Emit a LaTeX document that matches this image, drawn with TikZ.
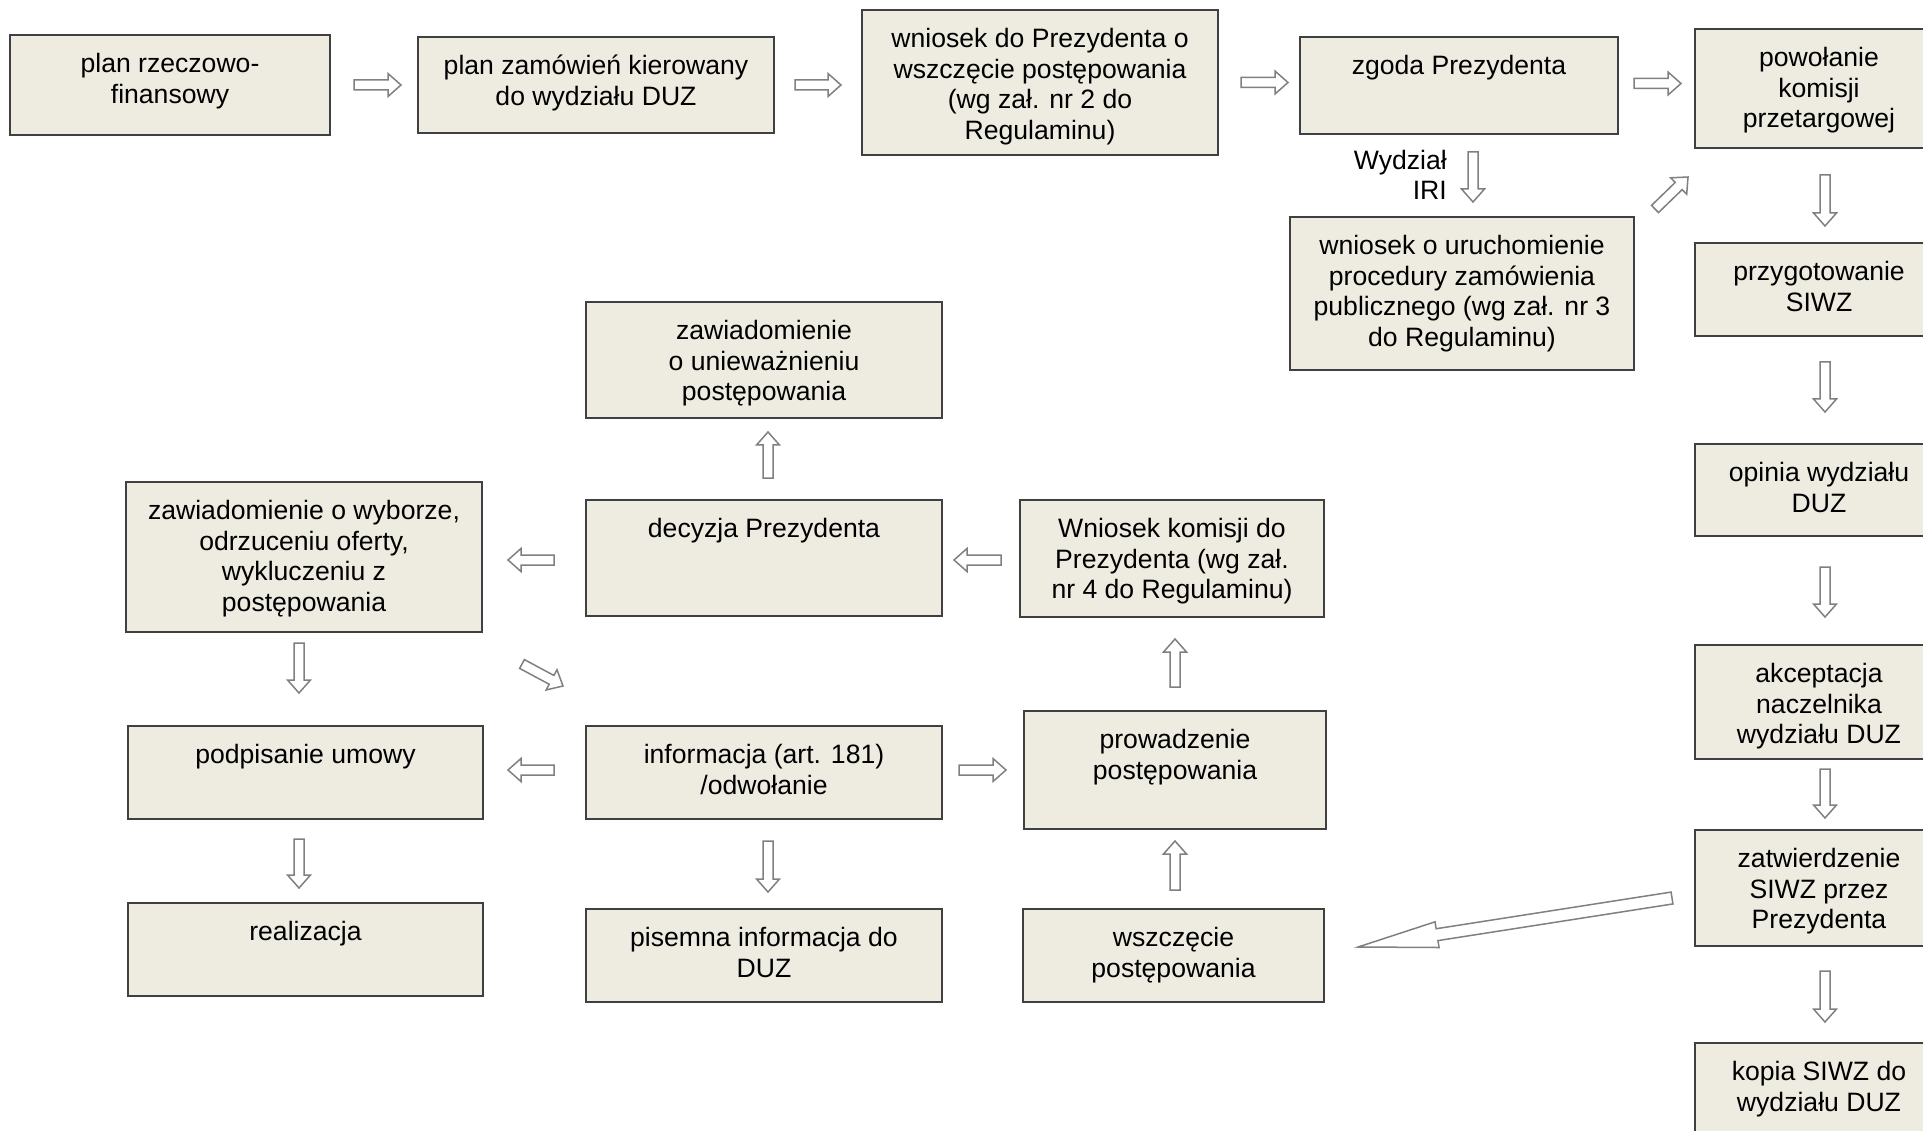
\documentclass[tikz,border=0pt]{standalone}
\usepackage{fontspec}
\setmainfont{Liberation Sans}
\usetikzlibrary{calc}

\definecolor{boxfill}{HTML}{EEECE1}
\definecolor{boxline}{HTML}{404040}
\definecolor{arrline}{HTML}{808080}

% box text: width, height, lines (top aligned)
\newcommand\boxtxt[3]{\parbox[t][#2pt][t]{#1pt}{\centering\vspace*{16pt}\strut#3\par}}

\begin{document}
\begin{tikzpicture}
[x=1pt,y=-1pt,
 every node/.style={font=\fontsize{26.6}{30.7}\selectfont},
 box/.style={draw=boxline,line width=2pt,fill=boxfill,inner sep=0pt,outer sep=0pt,anchor=north west},
 lbl/.style={inner sep=0pt,align=right,anchor=east},
 barw/.store in=\barw, barW/.store in=\barW, barh/.store in=\barh,
 barw=5pt, barW=11.5pt, barh=13pt,
 barrow/.style={draw=arrline,fill=white,line width=1.5pt,
   to path={($(\tikztostart)!\barw!90:(\tikztotarget)$)
     -- ($(\tikztotarget)!\barh!(\tikztostart)!\barw!-90:(\tikztostart)$)
     -- ($(\tikztotarget)!\barh!(\tikztostart)!\barW!-90:(\tikztostart)$)
     -- (\tikztotarget)
     -- ($(\tikztotarget)!\barh!(\tikztostart)!\barW!90:(\tikztostart)$)
     -- ($(\tikztotarget)!\barh!(\tikztostart)!\barw!90:(\tikztostart)$)
     -- ($(\tikztostart)!\barw!-90:(\tikztotarget)$) -- cycle}}]
\useasboundingbox (0,0) rectangle (1923,1131);
\clip (0,0) rectangle (1923,1131);

% top row and right column
\node[box] (plan)    at (10,35)    {\boxtxt{320}{100}{plan rzeczowo-\\finansowy}};
\node[box] (zam)     at (418,37)   {\boxtxt{356}{96}{plan zamówień kierowany\\do wydziału DUZ}};
\node[box] (wnprez)  at (862,10)   {\boxtxt{356}{145}{wniosek do Prezydenta o\\wszczęcie postępowania\\(wg zał. nr 2 do\\Regulaminu)}};
\node[box] (zgoda)   at (1300,37)  {\boxtxt{318}{97}{zgoda Prezydenta}};
\node[box] (komisja) at (1695,29)  {\boxtxt{248}{119}{powołanie\\komisji\\przetargowej}};
\node[box] (wnpzp)   at (1290,217) {\boxtxt{344}{153}{wniosek o uruchomienie\\procedury zamówienia\\publicznego (wg zał. nr 3\\do Regulaminu)}};
\node[box] (siwz)    at (1695,243) {\boxtxt{248}{93}{przygotowanie\\SIWZ}};
\node[box] (opinia)  at (1695,444) {\boxtxt{248}{92}{opinia wydziału\\DUZ}};
\node[box] (akcept)  at (1695,645) {\boxtxt{248}{114}{akceptacja\\naczelnika\\wydziału DUZ}};
\node[box] (zatw)    at (1695,830) {\boxtxt{248}{116}{zatwierdzenie\\SIWZ przez\\Prezydenta}};
\node[box] (kopia)   at (1695,1043) {\boxtxt{248}{100}{kopia SIWZ do\\wydziału DUZ}};
\node[lbl] (iri)     at (1447,175) {Wydział\\IRI};

% left part
\node[box] (uniew)   at (586,302)  {\boxtxt{356}{116}{zawiadomienie\\o unieważnieniu\\postępowania}};
\node[box] (wybor)   at (126,482)  {\boxtxt{356}{150}{zawiadomienie o wyborze,\\odrzuceniu oferty,\\wykluczeniu z\\postępowania}};
\node[box] (decyzja) at (586,500)  {\boxtxt{356}{116}{decyzja Prezydenta}};
\node[box] (wnkom)   at (1020,500) {\boxtxt{304}{117}{Wniosek komisji do\\Prezydenta (wg zał.\\nr 4 do Regulaminu)}};
\node[box] (umowa)   at (128,726)  {\boxtxt{355}{93}{podpisanie umowy}};
\node[box] (inform)  at (586,726)  {\boxtxt{356}{93}{informacja (art. 181)\\/odwołanie}};
\node[box] (prowadz) at (1024,711) {\boxtxt{302}{118}{prowadzenie\\postępowania}};
\node[box] (realiz)  at (128,903)  {\boxtxt{355}{93}{realizacja}};
\node[box] (pisemna) at (586,909)  {\boxtxt{356}{93}{pisemna informacja do\\DUZ}};
\node[box] (wszcz)   at (1023,909) {\boxtxt{301}{93}{wszczęcie\\postępowania}};

% block arrows
\path ($(plan.east)+(24,0)$)       edge[barrow] ($(zam.west)+(-17,0)$);
\path ($(zam.east)+(21,0)$)        edge[barrow] ($(wnprez.west)+(-21,2.5)$);
\path ($(wnprez.east)+(23,0)$)     edge[barrow] ($(zgoda.west)+(-12,-3)$);
\path ($(zgoda.east)+(16,-2)$)     edge[barrow] ($(komisja.west)+(-14,-5)$);
\path ($(zgoda.south)+(14,18)$)    edge[barrow] ($(wnpzp.north)+(11,-15)$);
\path ($(wnpzp.north east)+(21,-8)$) edge[barrow] ($(komisja.south west)+(-7,29)$);
\path ($(komisja.south)+(6,27)$)   edge[barrow] ($(siwz.north)+(6,-17)$);
\path ($(siwz.south)+(6,26)$)      edge[barrow] ($(opinia.north)+(6,-32)$);
\path ($(opinia.south)+(6,31)$)    edge[barrow] ($(akcept.north)+(6,-28)$);
\path ($(akcept.south)+(6,10)$)    edge[barrow] ($(zatw.north)+(6,-12)$);
\path ($(zatw.south)+(6,25)$)      edge[barrow] ($(kopia.north)+(6,-21)$);
\path ($(zatw.west)+(-23,10)$)     edge[barrow,barw=6pt,barW=13pt,barh=80pt] ($(wszcz.east)+(34,-8.5)$);

\path ($(decyzja.north)+(4,-22)$)  edge[barrow] ($(uniew.south)+(4,14)$);
\path ($(decyzja.west)+(-32,2)$)   edge[barrow] ($(wybor.east)+(26,3)$);
\path ($(wnkom.west)+(-19,1.5)$)   edge[barrow] ($(decyzja.east)+(12,2)$);
\path ($(wybor.south)+(-5,11)$)    edge[barrow] ($(umowa.north)+(-6.5,-33)$);
\path ($(wybor.south east)+(40,32)$) edge[barrow] ($(inform.north west)+(-23,-40)$);
\path ($(prowadz.north)+(0,-24)$)  edge[barrow] ($(wnkom.south)+(3,22)$);
\path ($(inform.west)+(-32,-2.5)$) edge[barrow] ($(umowa.east)+(25,-2.5)$);
\path ($(inform.east)+(17,-2.5)$)  edge[barrow] ($(prowadz.west)+(-18,0)$);
\path ($(umowa.south)+(-6.5,20)$)  edge[barrow] ($(realiz.north)+(-6.5,-15)$);
\path ($(inform.south)+(4,22)$)    edge[barrow] ($(pisemna.north)+(4,-17)$);
\path ($(wszcz.north)+(1.5,-19)$)  edge[barrow] ($(prowadz.south)+(0,12)$);
\end{tikzpicture}
\end{document}
